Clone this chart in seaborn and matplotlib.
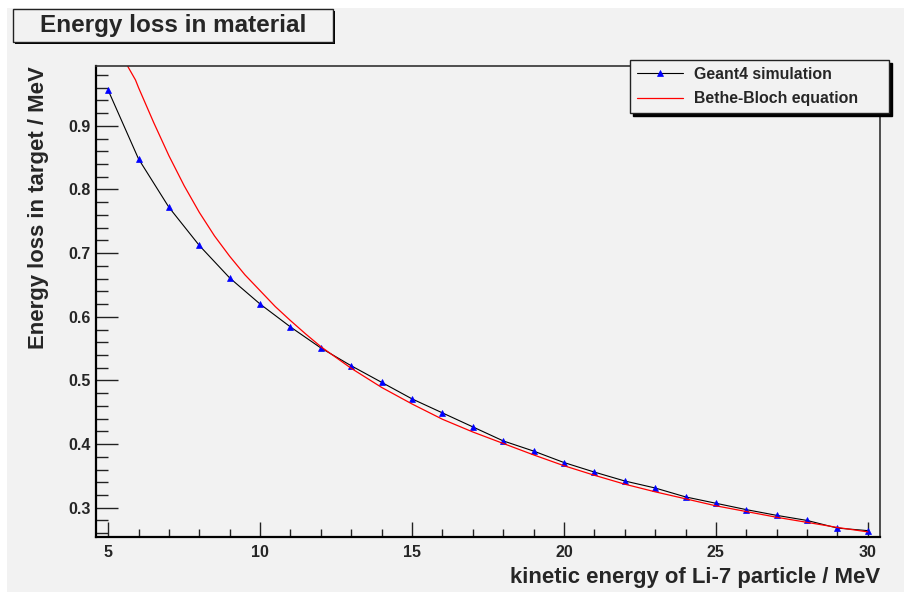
import matplotlib
matplotlib.use("Agg")
import matplotlib.pyplot as plt
from matplotlib.patches import Rectangle
from matplotlib.ticker import MultipleLocator
import seaborn as sns

# Geant4 simulation points
energy_sim = [5, 6, 7, 8, 9, 10, 11, 12, 13, 14, 15, 16, 17, 18, 19, 20,
              21, 22, 23, 24, 25, 26, 27, 28, 29, 30]
loss_sim = [0.956, 0.848, 0.772, 0.712, 0.661, 0.620, 0.584, 0.551, 0.523,
            0.497, 0.471, 0.449, 0.427, 0.405, 0.389, 0.371, 0.356, 0.342,
            0.331, 0.317, 0.307, 0.297, 0.288, 0.280, 0.268, 0.264]

# Bethe-Bloch curve
energy_bb = [5.55, 5.65, 5.9, 6.0, 6.5, 7.0, 7.5, 8.0, 8.5, 9.0, 9.5, 10,
             10.5, 11, 11.5, 12, 13, 14, 15, 16, 17, 18, 19, 20, 21, 22, 23,
             24, 25, 26, 27, 28, 29, 30]
loss_bb = [1.002, 0.993, 0.972, 0.960, 0.905, 0.853, 0.806, 0.764, 0.727,
           0.695, 0.666, 0.641, 0.616, 0.594, 0.573, 0.553, 0.519, 0.489,
           0.463, 0.439, 0.419, 0.401, 0.383, 0.366, 0.351, 0.337, 0.325,
           0.314, 0.303, 0.294, 0.285, 0.277, 0.269, 0.262]

bg = "#f2f2f2"

sns.set_theme(style="ticks")
plt.rcParams["font.family"] = ["Liberation Sans", "DejaVu Sans"]
plt.rcParams["font.weight"] = "bold"

W, H = 906, 592
fig = plt.figure(figsize=(W / 100, H / 100), dpi=100, facecolor="white")

# grey canvas with a thin white border
fig.add_artist(Rectangle((7 / W, 0), 897 / W, 1 - 8 / H, transform=fig.transFigure,
                         facecolor=bg, edgecolor="none", zorder=-10))

ax = fig.add_axes([96 / W, 1 - 537 / H, 784 / W, 471 / H])
ax.set_facecolor(bg)

sns.lineplot(x=energy_sim, y=loss_sim, ax=ax, color="black", linewidth=0.8,
             marker="^", markersize=5, markerfacecolor="blue",
             markeredgecolor="blue", markeredgewidth=0.5,
             label="Geant4 simulation", legend=False)
sns.lineplot(x=energy_bb, y=loss_bb, ax=ax, color="red", linewidth=0.9,
             label="Bethe-Bloch equation", legend=False)

ax.set_xlim(4.6, 30.4)
ax.set_ylim(0.254, 0.994)

ax.xaxis.set_major_locator(MultipleLocator(5))
ax.xaxis.set_minor_locator(MultipleLocator(1))
ax.yaxis.set_major_locator(MultipleLocator(0.1))
ax.yaxis.set_minor_locator(MultipleLocator(0.02))

ax.tick_params(axis="x", which="major", direction="in", length=10.5, width=1,
               color="#222222", pad=6, labelsize=11.5)
ax.tick_params(axis="x", which="minor", direction="in", length=5.5, width=1,
               color="#222222")
ax.tick_params(axis="y", which="major", direction="in", length=16, width=1,
               color="#222222", pad=4, labelsize=11.5)
ax.tick_params(axis="y", which="minor", direction="in", length=8.5, width=1,
               color="#222222")
ax.set_yticks([0.3, 0.4, 0.5, 0.6, 0.7, 0.8, 0.9])
ax.set_yticklabels(["0.3", "0.4", "0.5", "0.6", "0.7", "0.8", "0.9"])

for side in ["left", "bottom"]:
    ax.spines[side].set_color("black")
    ax.spines[side].set_linewidth(1.6)
for side in ["top", "right"]:
    ax.spines[side].set_color("#333333")
    ax.spines[side].set_linewidth(1.2)

ax.set_xlabel("kinetic energy of Li-7 particle / MeV", fontsize=15.9,
              fontweight="bold", loc="right")
ax.xaxis.set_label_coords(1.0, -0.063)
ax.set_ylabel("Energy loss in target / MeV", fontsize=15.9,
              fontweight="bold", loc="top")
ax.yaxis.set_label_coords(-0.060, 1.0)

# legend box in the upper right, over the frame
handles, labels = ax.get_legend_handles_labels()
leg = fig.legend(handles, labels, loc="upper left", mode="expand",
                 bbox_to_anchor=(630 / W, 1 - 113 / H, 259 / W, 53 / H),
                 bbox_transform=fig.transFigure, borderaxespad=0,
                 prop={"weight": "bold", "size": 11.4},
                 handlelength=2.9, handletextpad=0.7, labelspacing=0.62,
                 borderpad=0.42, fancybox=False, framealpha=1,
                 facecolor=bg, edgecolor="#222222",
                 shadow={"ox": 2.2, "oy": -2.2, "color": "black", "alpha": 1})
leg.get_frame().set_linewidth(1.0)

# title box with shadow
fig.add_artist(Rectangle((15 / W, 1 - 44 / H), 320 / W, 33 / H,
                         transform=fig.transFigure, facecolor="black",
                         edgecolor="none", zorder=5))
fig.add_artist(Rectangle((13 / W, 1 - 42 / H), 320 / W, 33 / H,
                         transform=fig.transFigure, facecolor=bg,
                         edgecolor="#222222", linewidth=1.0, zorder=6))
fig.text(173 / W, 1 - 25.5 / H, "Energy loss in material", fontsize=17.5,
         fontweight="bold", ha="center", va="center", zorder=7)

fig.savefig("out.png", dpi=100, facecolor=fig.get_facecolor())
